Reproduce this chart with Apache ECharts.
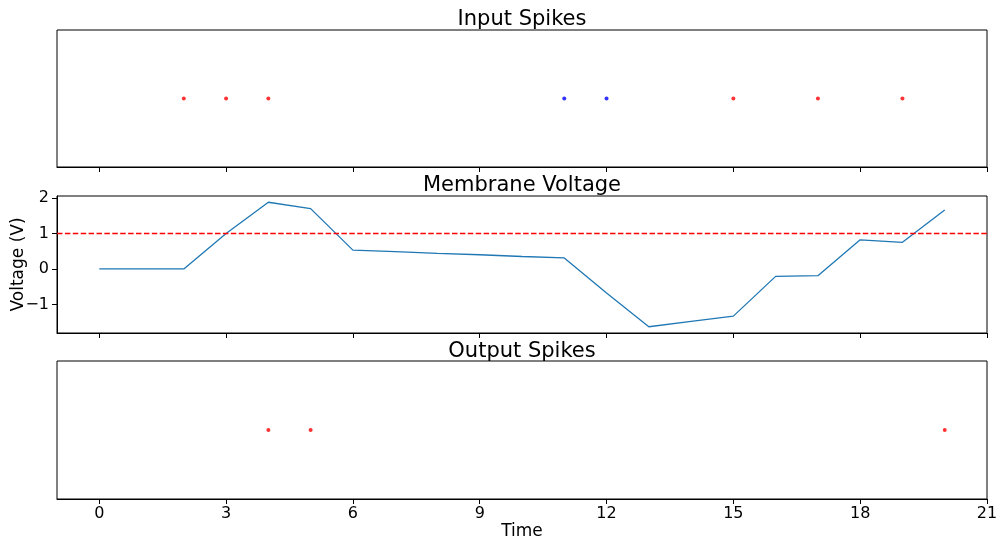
<!DOCTYPE html>
<html>
<head>
<meta charset="utf-8">
<script src="https://cdn.jsdelivr.net/npm/echarts@6/dist/echarts.min.js"></script>
<style>
  html, body { margin: 0; padding: 0; background: #fff; }
  #chart { width: 1000px; height: 543px; }
</style>
</head>
<body>
<div id="chart"></div>
<script>
// Time steps and membrane potential of the neuron
const timeSteps = [0,1,2,3,4,5,6,7,8,9,10,11,12,13,14,15,16,17,18,19,20];
const voltage = [0, 0, 0, 1.0, 1.88, 1.70, 0.53, 0.49, 0.44, 0.40, 0.35, 0.31,
                 -0.68, -1.63, -1.48, -1.33, -0.21, -0.19, 0.82, 0.75, 1.66];
const threshold = 1.0;

// Input spike times: excitatory (red) and inhibitory (blue)
const excitatorySpikes = [2, 3, 4, 15, 17, 19];
const inhibitorySpikes = [11, 12];
// Output spike times
const outputSpikes = [4, 5, 20];

const xTicks = [0, 3, 6, 9, 12, 15, 18, 21];
const yTicks = [-1, 0, 1, 2];

const FONT = 'DejaVu Sans';
const INK = '#000';

function minusSign(v) { return String(v).replace('-', '\u2212'); }

function makeXAxis(gridIndex, showLabels) {
  return {
    type: 'value', gridIndex: gridIndex, min: -1, max: 21,
    axisLine: { show: true, onZero: false, lineStyle: { color: INK, width: 1 } },
    axisTick: { show: true, inside: false, length: 5, customValues: xTicks,
                lineStyle: { color: INK, width: 1 } },
    axisLabel: { show: showLabels, customValues: xTicks, margin: 7,
                 fontFamily: FONT, fontSize: 16, color: INK },
    splitLine: { show: false },
    name: showLabels ? 'Time' : '',
    nameLocation: 'middle', nameGap: 24, nameMoveOverlap: false,
    nameTextStyle: { fontFamily: FONT, fontSize: 17, color: INK }
  };
}

function spikeAxis(gridIndex) {
  return {
    type: 'value', gridIndex: gridIndex, min: -1, max: 1,
    axisLine: { show: false, onZero: false },
    axisTick: { show: false }, axisLabel: { show: false }, splitLine: { show: false }
  };
}

function panel(top, height) {
  return { left: 57, right: 13, top: top, height: height, show: true,
           borderColor: INK, borderWidth: 1, backgroundColor: 'transparent',
           containLabel: false, outerBoundsMode: 'none' };
}

function panelTitle(text, top) {
  return { text: text, left: 522, top: top, textAlign: 'center', padding: 0,
           textStyle: { fontFamily: FONT, fontSize: 21, fontWeight: 'normal', color: INK } };
}

const option = {
  animation: false,
  backgroundColor: '#fff',
  title: [
    panelTitle('Input Spikes', 9),
    panelTitle('Membrane Voltage', 175),
    panelTitle('Output Spikes', 341)
  ],
  grid: [panel(30, 137), panel(196, 137), panel(361, 138)],
  xAxis: [makeXAxis(0, false), makeXAxis(1, false), makeXAxis(2, true)],
  yAxis: [
    spikeAxis(0),
    {
      type: 'value', gridIndex: 1, min: -1.806, max: 2.056,
      axisLine: { show: true, onZero: false, lineStyle: { color: INK, width: 1 } },
      axisTick: { show: true, length: 5, customValues: yTicks, lineStyle: { color: INK, width: 1 } },
      axisLabel: { show: true, customValues: yTicks, margin: 8, fontFamily: FONT, fontSize: 16,
                   color: INK, formatter: minusSign },
      splitLine: { show: false },
      name: 'Voltage (V)', nameLocation: 'middle', nameGap: 30, nameRotate: 90,
      nameMoveOverlap: false,
      nameTextStyle: { fontFamily: FONT, fontSize: 17, color: INK }
    },
    spikeAxis(2)
  ],
  series: [
    {
      type: 'scatter', xAxisIndex: 0, yAxisIndex: 0, symbolSize: 4,
      itemStyle: { color: '#ff0000' },
      data: excitatorySpikes.map(t => [t, 0])
    },
    {
      type: 'scatter', xAxisIndex: 0, yAxisIndex: 0, symbolSize: 4,
      itemStyle: { color: '#0000ff' },
      data: inhibitorySpikes.map(t => [t, 0])
    },
    {
      type: 'line', xAxisIndex: 1, yAxisIndex: 1, showSymbol: false, symbol: 'none',
      lineStyle: { color: '#1f77b4', width: 1.3 },
      data: timeSteps.map((t, i) => [t, voltage[i]]),
      markLine: {
        silent: true, symbol: 'none', label: { show: false },
        lineStyle: { color: '#ff0000', type: [5.5, 2.4], width: 1.4 },
        data: [{ yAxis: threshold }]
      }
    },
    {
      type: 'scatter', xAxisIndex: 2, yAxisIndex: 2, symbolSize: 4,
      itemStyle: { color: '#ff0000' },
      data: outputSpikes.map(t => [t, 0])
    }
  ]
};

const chart = echarts.init(document.getElementById('chart'), null, { renderer: 'canvas' });
chart.setOption(option);
</script>
</body>
</html>
